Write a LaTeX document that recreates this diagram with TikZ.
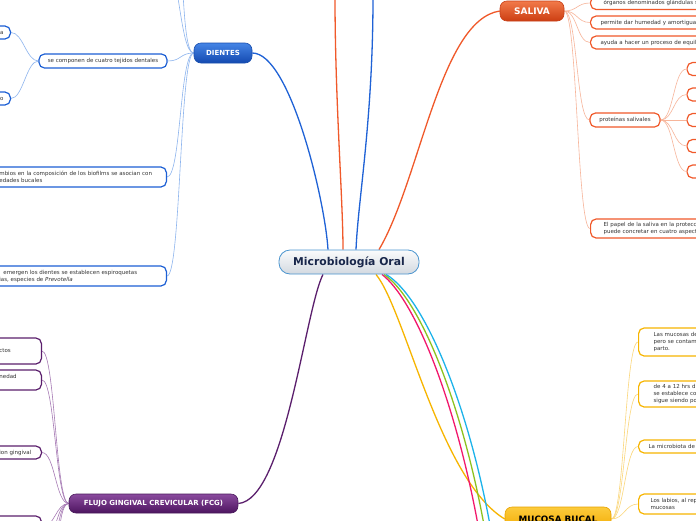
\documentclass[tikz,border=0pt]{standalone}
\usepackage{fontspec}
\setmainfont{DejaVu Sans}
\usetikzlibrary{calc}
\pgfdeclarelayer{bg}
\pgfsetlayers{bg,main}
\definecolor{txtc}{HTML}{333333}
\definecolor{ctrB}{HTML}{4B95CF}
\definecolor{ctrT}{HTML}{FAFBFC}
\definecolor{ctrBo}{HTML}{D3D9E0}
\definecolor{ctrTx}{HTML}{18264A}
\definecolor{blueM}{HTML}{1F62D6}
\definecolor{blueL}{HTML}{8DB4EE}
\definecolor{dienT}{HTML}{4585E6}
\definecolor{dienB}{HTML}{1349B0}
\definecolor{dienD}{HTML}{1A4FAE}
\definecolor{dchB}{HTML}{1C5FD4}
\definecolor{orangeM}{HTML}{F0592A}
\definecolor{orangeL}{HTML}{F7B59A}
\definecolor{salT}{HTML}{F27A4A}
\definecolor{salB}{HTML}{CC3E12}
\definecolor{salD}{HTML}{C84018}
\definecolor{purpleM}{HTML}{5B1F6D}
\definecolor{purpleL}{HTML}{A67AB4}
\definecolor{fcgT}{HTML}{8A4B9E}
\definecolor{fcgB}{HTML}{4D145F}
\definecolor{fcgD}{HTML}{4A1A5C}
\definecolor{yellowM}{HTML}{F7B500}
\definecolor{yellowL}{HTML}{FBD77A}
\definecolor{mucT}{HTML}{FCCB3C}
\definecolor{mucB}{HTML}{F2A900}
\definecolor{mucD}{HTML}{E8A200}
\definecolor{rbR}{HTML}{F2186C}
\definecolor{rbG}{HTML}{8DC21F}
\definecolor{rbC}{HTML}{1DB3EA}
\begin{document}
\begin{tikzpicture}[x=1pt,y=-1pt,
  chbox/.style={draw, fill=white, line width=1.2pt, rounded corners=5.5pt,
    font=\fontsize{5.5}{7}\selectfont, text=txtc, align=left, inner xsep=7pt, inner ysep=2pt},
  topicbox/.style={draw, line width=0.6pt, rounded corners=7pt, text=white,
    font=\bfseries\fontsize{7}{8}\selectfont, inner sep=0pt},
  ctrbox/.style={draw=ctrB, line width=0.8pt, rounded corners=11pt, top color=ctrT,
    bottom color=ctrBo, minimum width=140pt, minimum height=24pt, inner sep=0pt,
    font=\bfseries\fontsize{10.8}{12}\selectfont, text=ctrTx},
  mainln/.style={line width=1.3pt},
  subln/.style={line width=0.6pt},
]
\useasboundingbox (0,0) rectangle (696,520);

% central and main topics
\node[ctrbox] (ctr) at (349,262) {Microbiología Oral};
\node[topicbox, draw=dienD, top color=dienT, bottom color=dienB, minimum width=58pt, minimum height=20pt] (dientes) at (223,53) {DIENTES};
\node[topicbox, draw=salD, top color=salT, bottom color=salB, minimum width=64pt, minimum height=20pt, font=\bfseries\fontsize{9}{10}\selectfont] (saliva) at (532,11) {SALIVA};
\node[topicbox, draw=fcgD, top color=fcgT, bottom color=fcgB, minimum width=169pt, minimum height=19pt] (fcg) at (153.5,503.5) {FLUJO GINGIVAL CREVICULAR (FCG)};
\node[topicbox, draw=mucD, top color=mucT, bottom color=mucB, minimum width=106pt, minimum height=24pt, text=black, font=\bfseries\fontsize{8.8}{10}\selectfont] (mucosa) at (558,519) {MUCOSA BUCAL};

% DIENTES children
\node[chbox, draw=dchB, minimum width=128pt, minimum height=14pt, align=center] (d1) at (103,61) {se componen de cuatro tejidos dentales};
\node[chbox, draw=dchB, anchor=east, text width=30pt, align=right, minimum height=13pt] (d1a) at (11,32.5) {a};
\node[chbox, draw=dchB, anchor=east, text width=30pt, align=right, minimum height=13pt] (d1b) at (11,98.5) {o};
\node[chbox, draw=dchB, anchor=east, text width=161pt, inner xsep=6pt, minimum height=20pt] (d2) at (167,177) {mbios en la composición de los biofilms se asocian con\\edades bucales};
\node[chbox, draw=dchB, anchor=east, text width=161pt, inner xsep=6pt, minimum height=20pt] (d3) at (167,276) {\hspace*{4pt}emergen los dientes se establecen espiroquetas\\ias, especies de \textit{Prevotella}};

% SALIVA children
\node[chbox, draw=orangeM, anchor=west, text width=120pt, inner xsep=13pt, minimum height=13pt] (s1) at (590,3) {órganos denominados glándulas s};
\node[chbox, draw=orangeM, anchor=west, text width=120pt, inner xsep=10pt, minimum height=13pt] (s2) at (590,22.5) {permite dar humedad y amortigua};
\node[chbox, draw=orangeM, anchor=west, text width=120pt, inner xsep=10pt, minimum height=13pt] (s3) at (590,42.5) {ayuda a hacer un proceso de equili};
\node[chbox, draw=orangeM, minimum width=70pt, minimum height=14pt, align=center] (s4) at (625,120) {proteínas salivales};
\node[chbox, draw=orangeM, anchor=west, text width=120pt, inner xsep=13pt, minimum height=19pt] (s5) at (590,228.5) {El papel de la saliva en la protecci\\puede concretar en cuatro aspect};
\node[chbox, draw=orangeM, anchor=west, minimum width=30pt, minimum height=13pt] (p1) at (686.5,69) {};
\node[chbox, draw=orangeM, anchor=west, minimum width=30pt, minimum height=13pt] (p2) at (686.5,94.5) {};
\node[chbox, draw=orangeM, anchor=west, minimum width=30pt, minimum height=13pt] (p3) at (686.5,120) {};
\node[chbox, draw=orangeM, anchor=west, minimum width=30pt, minimum height=13pt] (p4) at (686.5,146) {};
\node[chbox, draw=orangeM, anchor=west, minimum width=30pt, minimum height=13pt] (p5) at (686.5,171.5) {};

% FCG children
\node[chbox, draw=purpleM, anchor=east, text width=36pt, inner xsep=6pt, minimum height=26pt] (f1) at (42,351) {ctos};
\node[chbox, draw=purpleM, anchor=east, text width=36pt, inner xsep=6pt, minimum height=20pt] (f2) at (42,380) {nedad\\\mbox{}};
\node[chbox, draw=purpleM, anchor=east, text width=36pt, inner xsep=6pt, minimum height=13pt] (f3) at (42,452.5) {ion gingival};
\node[chbox, draw=purpleM, anchor=east, text width=36pt, inner xsep=6pt, minimum height=22pt] (f4) at (42,527) {};

% MUCOSA children
\node[chbox, draw=yellowM, anchor=west, text width=80pt, inner xsep=15pt, minimum height=28pt] (m1) at (638,342) {Las mucosas de\\pero se contam\\parto.};
\node[chbox, draw=yellowM, anchor=west, text width=80pt, inner xsep=15pt, minimum height=26pt] (m2) at (638,394) {de 4 a 12 hrs d\\se establece co\\sigue siendo po};
\node[chbox, draw=yellowM, anchor=west, text width=80pt, inner xsep=10pt, minimum height=13pt] (m3) at (638,446.5) {La microbiota de l};
\node[chbox, draw=yellowM, anchor=west, text width=80pt, inner xsep=12pt, minimum height=20pt] (m4) at (638,504) {Los labios, al rep\\mucosas};

% off-picture ends
\coordinate (dt1) at (165,-40);
\coordinate (dt2) at (172,-70);
\coordinate (topO) at (335,-3);
\coordinate (topB) at (373,-3);
\coordinate (fo1) at (44,540);
\coordinate (fo2) at (46,556);
\coordinate (fo3) at (48,575);
\coordinate (rR) at (478,525);
\coordinate (rG) at (484,525);
\coordinate (rC) at (490,525);

\begin{pgfonlayer}{bg}
\fill[white] (0,0) rectangle (696,520);
% main connectors
\draw[mainln, blueM] ([xshift=-21pt]ctr.north) .. controls (325,200) and (290,53) .. (dientes.east);
\draw[mainln, orangeM] (topO) .. controls (335,100) and (343,200) .. ([xshift=-6pt]ctr.north);
\draw[mainln, blueM] (topB) .. controls (373,120) and (358,200) .. ([xshift=7pt]ctr.north);
\draw[mainln, orangeM] ([xshift=30pt]ctr.north) .. controls (420,180) and (440,20) .. (saliva.west);
\draw[mainln, purpleM] ([xshift=-26pt]ctr.south) .. controls (305,310) and (285,500) .. (fcg.east);
\draw[mainln, yellowM] ([xshift=27pt]ctr.south) .. controls (405,310) and (440,480) .. (mucosa.west);
\draw[mainln, rbR] ([xshift=33pt]ctr.south) .. controls (415,300) and (455,400) .. (rR);
\draw[mainln, rbG] ([xshift=35pt]ctr.south) .. controls (419,298) and (461,400) .. (rG);
\draw[mainln, rbC] ([xshift=37pt]ctr.south) .. controls (423,296) and (467,400) .. (rC);
% DIENTES branches
\foreach \t in {d1,d2,d3,dt1,dt2}
  \draw[subln, blueL] (dientes.west) .. controls +(-14,0) and +(14,0) .. (\t.east);
\foreach \t in {d1a,d1b}
  \draw[subln, blueL] (d1.west) .. controls +(-12,0) and +(12,0) .. (\t.east);
% SALIVA branches
\foreach \t in {s1,s2,s3,s4,s5}
  \draw[subln, orangeL] (saliva.east) .. controls +(13,0) and +(-13,0) .. (\t.west);
\foreach \t in {p1,p2,p3,p4,p5}
  \draw[subln, orangeL] (s4.east) .. controls +(13,0) and +(-13,0) .. (\t.west);
% FCG branches
\foreach \t in {f1,f2,f3,f4,fo1,fo2,fo3}
  \draw[subln, purpleL] (fcg.west) .. controls +(-13,0) and +(13,0) .. (\t.east);
% MUCOSA branches
\foreach \t in {m1,m2,m3,m4}
  \draw[subln, yellowL] (mucosa.east) .. controls +(13,0) and +(-13,0) .. (\t.west);
\end{pgfonlayer}
\end{tikzpicture}
\end{document}
